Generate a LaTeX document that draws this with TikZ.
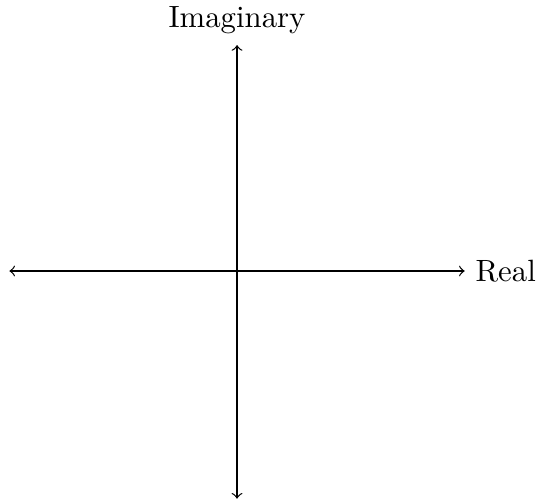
\documentclass[tikz,border=0pt]{standalone}
\usepackage{tikz}
\usetikzlibrary{positioning}

\begin{document}
\begin{tikzpicture}[
  axis/.style={<->,thin}]
\useasboundingbox (-2.707,-2.638) rectangle (3.46,3.095);
\coordinate (o) at (0,0);
\coordinate (w) at (-2.6,0);
\coordinate (e) at (2.6,0);
\coordinate (s) at (0,-2.6);
\coordinate (n) at (0,2.58);
\draw[axis] (w) -- (e);
\draw[axis] (s) -- (n);
\node[right=0pt of e] (re) {Real};
\node[above=0pt of n] (im) {Imaginary};
\end{tikzpicture}
\end{document}
